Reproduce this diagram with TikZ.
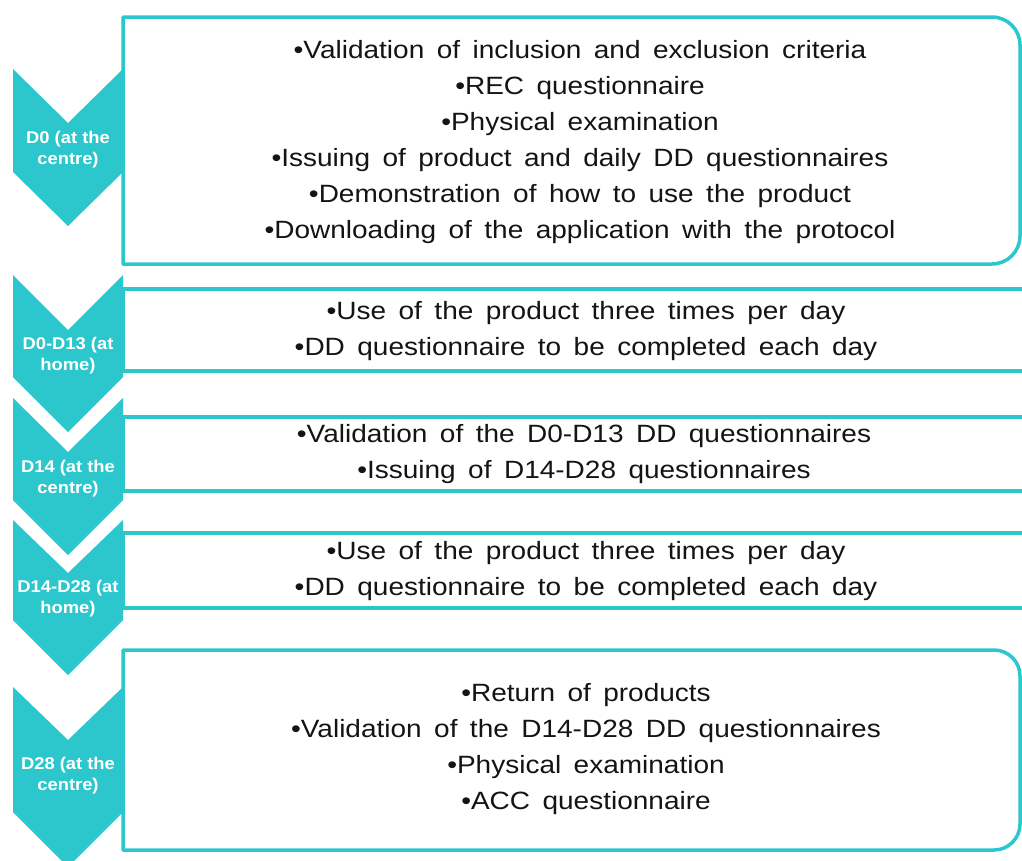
\documentclass[tikz,border=0pt]{standalone}
\usepackage{fontspec}
\setmainfont{Liberation Sans}
\newfontfamily\boxfont[FakeStretch=1.12,WordSpace=1.6]{Liberation Sans}
\newfontfamily\chevfont[FakeStretch=1.08]{Liberation Sans}
\definecolor{teal1}{RGB}{44,198,205}
\definecolor{txt}{RGB}{20,20,20}
\begin{document}
\begin{tikzpicture}[x=1pt,y=-1pt,
  chev/.style={fill=teal1,draw=none},
  boxline/.style={draw=teal1,line width=3.5pt,line join=round},
  boxtext/.style={text=txt,font=\boxfont\fontsize{25}{36}\selectfont,align=center,inner sep=0pt},
  chevtext/.style={text=white,font=\chevfont\fontsize{17}{21}\selectfont\bfseries,align=center,inner sep=0pt}]
\useasboundingbox (0,0) rectangle (1022,860);
\clip (0,0) rectangle (1022,860);
\fill[white] (0,0) rectangle (1022,860);
% boxes
\draw[boxline] (992,17) -- (123,17) -- (123,264) -- (992,264) arc[start angle=90,end angle=0,radius=28] -- (1020,45) arc[start angle=0,end angle=-90,radius=28] -- cycle;
\draw[boxline] (1030,289) -- (123,289) -- (123,371) -- (1030,371);
\draw[boxline] (1030,417) -- (123,417) -- (123,491) -- (1030,491);
\draw[boxline] (1030,533) -- (123,533) -- (123,608) -- (1030,608);
\draw[boxline] (994,650) -- (123,650) -- (123,850) -- (994,850) arc[start angle=90,end angle=0,radius=26] -- (1020,676) arc[start angle=0,end angle=-90,radius=26] -- cycle;
% chevrons
\fill[chev] (13,69) -- (68,123) -- (123,69) -- (123,172) -- (68,226) -- (13,172) -- cycle;
\fill[chev] (13,275) -- (68,330) -- (123,275) -- (123,377) -- (68,432) -- (13,377) -- cycle;
\fill[chev] (13,398) -- (68,452) -- (123,398) -- (123,500) -- (68,555) -- (13,500) -- cycle;
\fill[chev] (13,520) -- (68,573) -- (123,520) -- (123,620) -- (68,675) -- (13,620) -- cycle;
\fill[chev] (13,687) -- (68,740) -- (123,687) -- (123,812) -- (68,867) -- (13,812) -- cycle;
\node[chevtext] (c1) at (68,150) {D0 (at the\\centre)};
\node[chevtext] (c2) at (68,356) {D0-D13 (at\\home)};
\node[chevtext] (c3) at (68,479) {D14 (at the\\centre)};
\node[chevtext] (c4) at (68,599) {D14-D28 (at\\home)};
\node[chevtext] (c5) at (68,776) {D28 (at the\\centre)};
% texts
\node[boxtext] (t1) at (580,142.5) {•Validation of inclusion and exclusion criteria\\•REC questionnaire\\•Physical examination\\•Issuing of product and daily DD questionnaires\\•Demonstration of how to use the product\\•Downloading of the application with the protocol};
\node[boxtext] (t2) at (586,331.5) {•Use of the product three times per day\\•DD questionnaire to be completed each day};
\node[boxtext] (t3) at (584,454.5) {•Validation of the D0-D13 DD questionnaires\\•Issuing of D14-D28 questionnaires};
\node[boxtext] (t4) at (586,571.5) {•Use of the product three times per day\\•DD questionnaire to be completed each day};
\node[boxtext] (t5) at (586,749.5) {•Return of products\\•Validation of the D14-D28 DD questionnaires\\•Physical examination\\•ACC questionnaire};
\end{tikzpicture}
\end{document}
